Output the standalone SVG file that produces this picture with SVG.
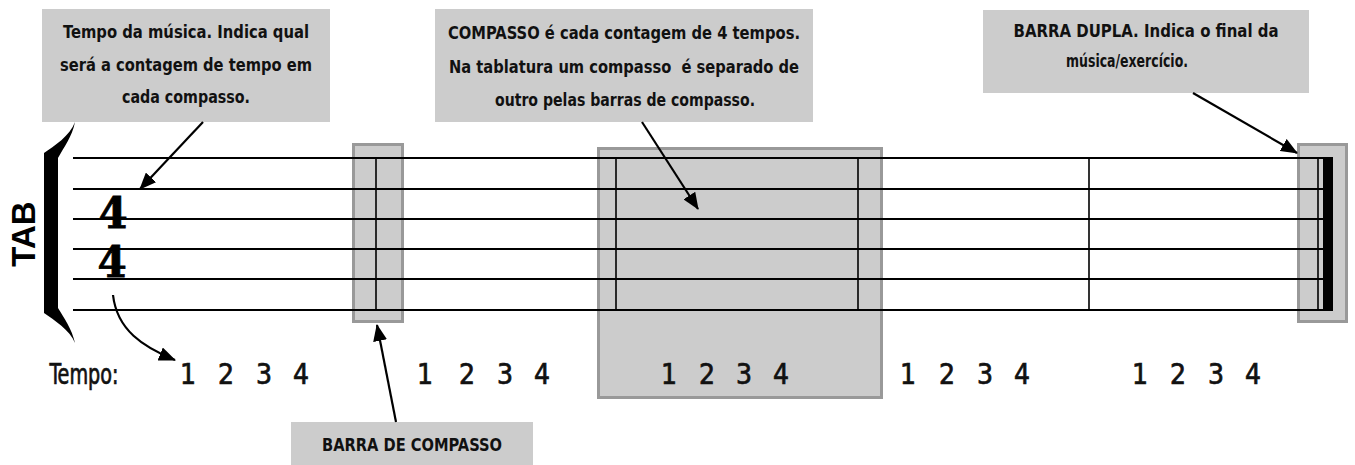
<svg xmlns="http://www.w3.org/2000/svg" width="1355" height="465" viewBox="0 0 1355 465">
<style>
.bg{fill:#ffffff}
.callout{fill:#cccccc;stroke:none}
.hl{fill:#cccccc;stroke:#999999;stroke-width:3}
.staff{stroke:#000;stroke-width:2;fill:none}
.bar{stroke:#000;stroke-width:1.6;fill:none}
.ct{font-family:"Liberation Sans Narrow","Arial Narrow","DejaVu Sans Condensed",sans-serif;font-stretch:condensed;font-weight:bold;font-size:18px;fill:#111;text-anchor:middle}
.num{font-family:"Liberation Sans Narrow","Arial Narrow","DejaVu Sans Condensed",sans-serif;font-stretch:condensed;font-size:28px;fill:#111;stroke:#111;stroke-width:0.7;text-anchor:middle}
.tab{font-family:"Liberation Sans","Arial",sans-serif;font-weight:bold;font-size:33px;fill:#000;text-anchor:middle}
.sig{font-family:"DejaVu Serif","Liberation Serif",serif;font-weight:bold;font-size:42px;fill:#000;stroke:#000;stroke-width:0.8;text-anchor:middle}
.arr{stroke:#000;stroke-width:2.2;fill:none;marker-end:url(#ah)}
</style>
<defs>
<marker id="ah" markerWidth="17" markerHeight="14" refX="16" refY="7" orient="auto" markerUnits="userSpaceOnUse">
<path d="M0,0 L17,7 L0,14 Z" fill="#000"/>
</marker>
</defs>
<rect class="bg" x="0" y="0" width="1355" height="465"/>

<!-- highlight boxes (under staff) -->
<g id="box-barra-compasso"><rect class="hl" x="353.5" y="144.5" width="49" height="177"/></g>
<g id="box-compasso"><rect class="hl" x="598.5" y="148.5" width="283" height="249"/></g>
<g id="box-barra-dupla"><rect class="hl" x="1298.5" y="144.5" width="48" height="177"/></g>

<!-- staff -->
<g id="staff">
<line class="staff" x1="73" y1="158" x2="1324" y2="158"/>
<line class="staff" x1="73" y1="189" x2="1324" y2="189"/>
<line class="staff" x1="73" y1="219" x2="1324" y2="219"/>
<line class="staff" x1="73" y1="249" x2="1324" y2="249"/>
<line class="staff" x1="73" y1="279" x2="1324" y2="279"/>
<line class="staff" x1="73" y1="310" x2="1324" y2="310"/>
<line class="bar" x1="376" y1="158" x2="376" y2="310"/>
<line class="bar" x1="616" y1="158" x2="616" y2="310"/>
<line class="bar" x1="858" y1="158" x2="858" y2="310"/>
<line class="bar" x1="1089" y1="158" x2="1089" y2="310"/>
<line class="bar" x1="1318" y1="158" x2="1318" y2="310"/>
<rect x="1323" y="157" width="10" height="154" fill="#000"/>
</g>

<g id="brace">
<path d="M44,153 C54,146 70,136 75,122 C72,137 64,147 58,158 L58,308 C64,318 72,329 75,343 C70,330 54,320 44,313 Z" fill="#000"/>
<text class="tab" transform="translate(35,234) rotate(-90)" x="0" y="0">TAB</text>
</g>

<g id="time-signature">
<text class="sig"><tspan x="113" y="228">4</tspan><tspan x="112" y="277">4</tspan></text>
</g>

<g id="counts">
<text class="num" x="84" y="384" textLength="69" lengthAdjust="spacingAndGlyphs">Tempo:</text>
<text class="num" x="188 207 226 245 264 283 301" y="384">1 2 3 4</text>
<text class="num" x="425 446 467 486 505 524 542" y="384">1 2 3 4</text>
<text class="num" x="669 688 707 726 744 763 781" y="384">1 2 3 4</text>
<text class="num" x="908 928 947 966 985 1004 1022" y="384">1 2 3 4</text>
<text class="num" x="1140 1159 1178 1197 1216 1235 1253" y="384">1 2 3 4</text>
</g>

<!-- callouts -->
<g id="callout-tempo">
<rect class="callout" x="42" y="9" width="288" height="113"/>
<text class="ct" x="186" y="38" textLength="246" lengthAdjust="spacingAndGlyphs">Tempo da música. Indica qual</text>
<text class="ct" x="186" y="71" textLength="252" lengthAdjust="spacingAndGlyphs">será a contagem de tempo em</text>
<text class="ct" x="186" y="103" textLength="128" lengthAdjust="spacingAndGlyphs">cada compasso.</text>
</g>
<g id="callout-compasso">
<rect class="callout" x="435" y="9" width="378" height="113"/>
<text class="ct" x="624" y="39" textLength="352" lengthAdjust="spacingAndGlyphs">COMPASSO é cada contagem de 4 tempos.</text>
<text class="ct" x="624" y="73" textLength="350" lengthAdjust="spacingAndGlyphs" xml:space="preserve" style="white-space:pre">Na tablatura um compasso  é separado de</text>
<text class="ct" x="625" y="106" textLength="260" lengthAdjust="spacingAndGlyphs">outro pelas barras de compasso.</text>
</g>
<g id="callout-barra-dupla">
<rect class="callout" x="983" y="10" width="326" height="83"/>
<text class="ct" x="1146" y="37" textLength="265" lengthAdjust="spacingAndGlyphs">BARRA DUPLA. Indica o final da</text>
<text class="ct" x="1127" y="67" textLength="122" lengthAdjust="spacingAndGlyphs">música/exercício.</text>
</g>
<g id="callout-barra-compasso">
<rect class="callout" x="291" y="422" width="242" height="43"/>
<text class="ct" x="412" y="451" textLength="180" lengthAdjust="spacingAndGlyphs">BARRA DE COMPASSO</text>
</g>

<g id="connectors">
<line class="arr" x1="203" y1="122" x2="140" y2="189"/>
<line class="arr" x1="642" y1="122" x2="698" y2="209"/>
<line class="arr" x1="1193" y1="93" x2="1297" y2="153"/>
<line class="arr" x1="396" y1="422" x2="377" y2="325"/>
<path class="arr" d="M113,295 C117,330 143,347 175,360"/>
</g>
</svg>
